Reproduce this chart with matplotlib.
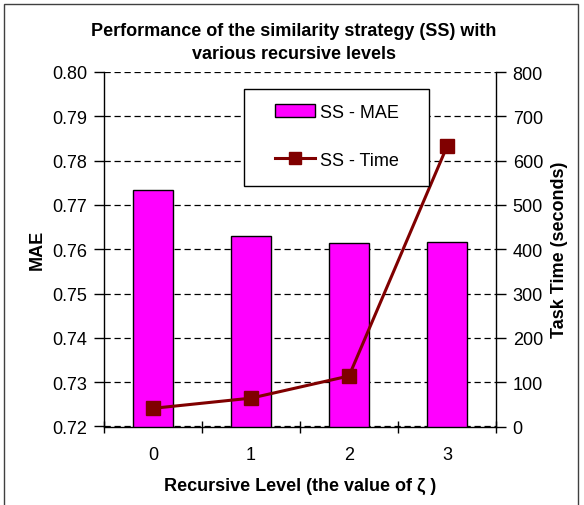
import matplotlib
matplotlib.use("Agg")
import matplotlib.pyplot as plt
from matplotlib.patches import Rectangle, Patch
from matplotlib.lines import Line2D

plt.rcParams['font.family'] = ['Liberation Sans', 'DejaVu Sans']

levels = ["0", "1", "2", "3"]
mae = [0.7734, 0.7630, 0.7614, 0.7617]
task_time = [41, 64, 114, 632]
mae_ticks = [0.72, 0.73, 0.74, 0.75, 0.76, 0.77, 0.78, 0.79, 0.80]
time_ticks = [0, 100, 200, 300, 400, 500, 600, 700, 800]

FS = 13
W, H = 584, 506
fig = plt.figure(figsize=(W / 100, H / 100), dpi=100)

# outer frame of the chart area
fig.patches.append(Rectangle((4 / W, -0.01), 574 / W, 1 - 5 / H + 0.01,
                             transform=fig.transFigure, fill=False,
                             edgecolor='#404040', linewidth=1.0))

ax = fig.add_axes([104 / W, 1 - 427.5 / H, 392 / W, 354.5 / H])
x = list(range(len(levels)))

ax.set_axisbelow(True)
ax.yaxis.grid(True, linestyle=(0, (5, 3)), color='black', linewidth=0.9)
ax.bar(x, mae, width=0.4, color='#FF00FF', edgecolor='black', linewidth=1.0,
       zorder=2)
ax.set_xlim(-0.5, 3.5)
ax.set_ylim(0.72, 0.80)
ax.set_yticks(mae_ticks)
ax.set_yticklabels([f"{v:.2f}" for v in mae_ticks], fontsize=FS)
ax.set_xticks(x)
ax.set_xticklabels(levels, fontsize=FS)
ax.set_xticks([-0.5, 0.5, 1.5, 2.5, 3.5], minor=True)
ax.tick_params(axis='x', which='major', length=0, pad=14)
ax.tick_params(axis='x', which='minor', direction='inout', length=9, width=1)
ax.tick_params(axis='y', direction='out', length=7, width=1, pad=5)
ax.spines['top'].set_visible(False)
ax.spines['right'].set_visible(False)
for side in ('left', 'bottom'):
    ax.spines[side].set_linewidth(1.0)

ax2 = ax.twinx()
ax2.plot(x, task_time, color='#800000', linewidth=2.2, marker='s',
         markersize=10, markerfacecolor='#800000', markeredgecolor='#800000',
         zorder=3)
ax2.set_ylim(0, 800)
ax2.set_yticks(time_ticks)
ax2.set_yticklabels([str(v) for v in time_ticks], fontsize=FS)
ax2.tick_params(axis='y', direction='out', length=7, width=1, pad=5)
ax2.spines['top'].set_visible(False)
ax2.spines['left'].set_visible(False)
ax2.spines['bottom'].set_visible(False)
ax2.spines['right'].set_linewidth(1.0)

ax.set_ylabel("MAE", fontsize=FS, fontweight='bold', labelpad=5)
ax2.set_ylabel("Task Time (seconds)", fontsize=FS, fontweight='bold', labelpad=6)
ax.set_xlabel("Recursive Level (the value of ζ )", fontsize=FS,
              fontweight='bold', labelpad=10)

fig.text(294 / W, 1 - 43 / H,
         "Performance of the similarity strategy (SS) with\nvarious recursive levels",
         ha='center', va='center', fontsize=FS, fontweight='bold',
         linespacing=1.5)

# legend box drawn separately so its size is fixed
box = Rectangle((244 / W, 1 - 187 / H), 185 / W, 97 / H,
                transform=fig.transFigure, facecolor='white',
                edgecolor='black', linewidth=1.0, zorder=4, clip_on=False)
ax2.add_patch(box)
handles = [Patch(facecolor='#FF00FF', edgecolor='black', linewidth=1.0),
           Line2D([], [], color='#800000', linewidth=2.2, marker='s',
                  markersize=8, markerfacecolor='#800000')]
leg = ax2.legend(handles, ["SS - MAE", "SS - Time"],
                 loc='upper left', bbox_to_anchor=(275 / W, 1 - 105 / H),
                 bbox_transform=fig.transFigure, fontsize=FS,
                 frameon=False, borderpad=0, labelspacing=1.7,
                 handlelength=2.2, handletextpad=0.3, borderaxespad=0)
leg.set_zorder(5)

fig.savefig("out.png", dpi=100)
